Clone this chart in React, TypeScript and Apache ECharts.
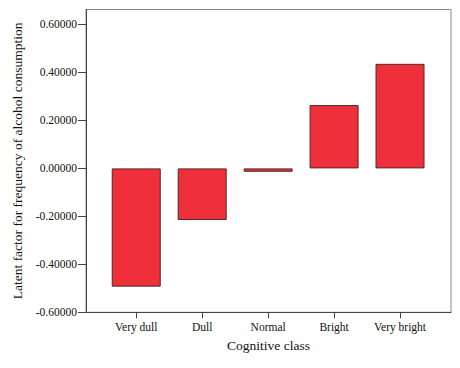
import React, { useEffect, useRef } from "react";
import * as echarts from "echarts";

const categories = ["Very dull", "Dull", "Normal", "Bright", "Very bright"];
const values = [-0.493, -0.215, -0.014, 0.264, 0.436];
const yTicks = [-0.6, -0.4, -0.2, 0, 0.2, 0.4, 0.6];
const xTicks = [0, 1, 2, 3, 4];

export default function App() {
  const ref = useRef<HTMLDivElement>(null);
  useEffect(() => {
    document.body.style.margin = "0";
    const chart = echarts.init(ref.current!, null, { renderer: "svg" });
    const font = "'Liberation Serif', 'DejaVu Serif', serif";
    chart.setOption({
      animation: false,
      backgroundColor: "#ffffff",
      grid: {
        left: 86,
        top: 9.5,
        right: 9,
        bottom: 55.7,
        show: true,
        borderColor: "#8a8a8a",
        borderWidth: 1,
        backgroundColor: "transparent",
      },
      xAxis: {
        type: "value",
        min: -0.762,
        max: 4.773,
        name: "Cognitive class",
        nameLocation: "middle",
        nameGap: 26,
        nameTextStyle: { fontFamily: font, fontSize: 13.5, color: "#111" },
        axisLine: { show: true, onZero: false, lineStyle: { color: "#444", width: 1 } },
        axisTick: {
          show: true,
          length: 6,
          lineStyle: { color: "#444" },
          customValues: xTicks,
        },
        axisLabel: {
          customValues: xTicks,
          margin: 9,
          fontFamily: font,
          fontSize: 11.5,
          color: "#111",
          formatter: (v: number) => categories[Math.round(v)] ?? "",
        },
        splitLine: { show: false },
      },
      yAxis: {
        type: "value",
        min: -0.6,
        max: 0.6625,
        name: "Latent factor for frequency of alcohol consumption",
        nameLocation: "middle",
        nameGap: 53,
        nameRotate: 90,
        nameTextStyle: { fontFamily: font, fontSize: 13.5, color: "#111" },
        axisLine: { show: true, onZero: false, lineStyle: { color: "#444", width: 1 } },
        axisTick: {
          show: true,
          length: 8,
          lineStyle: { color: "#444" },
          customValues: yTicks,
        },
        axisLabel: {
          customValues: yTicks,
          margin: 9,
          fontFamily: font,
          fontSize: 11.5,
          color: "#111",
          formatter: (v: number) => v.toFixed(5),
        },
        splitLine: { show: false },
      },
      series: [
        {
          type: "bar",
          barWidth: 49,
          data: values.map((v, i) => [i, v]),
          itemStyle: {
            color: "#ef2f3a",
            borderColor: "#4a2a2a",
            borderWidth: 1,
          },
        },
      ],
    });
    return () => chart.dispose();
  }, []);
  return (
    <div
      ref={ref}
      style={{ position: "absolute", left: 0, top: 0, width: 460, height: 368 }}
    />
  );
}
